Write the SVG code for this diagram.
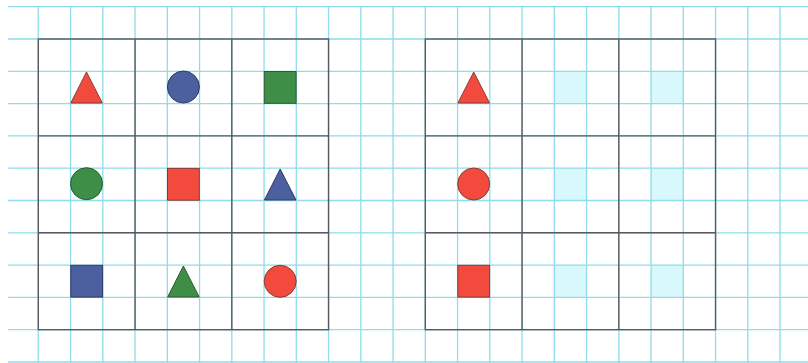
<svg xmlns="http://www.w3.org/2000/svg" width="808" height="363" viewBox="0 0 808 363">
<style>
.grid{stroke:#8fdcea;stroke-width:1.3;fill:none}
.tbl{stroke:#5a5a5e;stroke-width:1.4;fill:none}
.hint{fill:#d9f8fc}
.r{fill:#f24b3d;stroke:#8a3a36;stroke-width:1}
.b{fill:#4c5f9e;stroke:#2f3a66;stroke-width:1}
.g{fill:#3f8e47;stroke:#2a5a30;stroke-width:1}
</style>
<rect width="808" height="363" fill="#ffffff"/>
<g id="hints">
<rect class="hint" x="554.3" y="71.3" width="32.25" height="32.3"/>
<rect class="hint" x="651.05" y="71.3" width="32.25" height="32.3"/>
<rect class="hint" x="554.3" y="168.2" width="32.25" height="32.3"/>
<rect class="hint" x="651.05" y="168.2" width="32.25" height="32.3"/>
<rect class="hint" x="554.3" y="265.1" width="32.25" height="32.3"/>
<rect class="hint" x="651.05" y="265.1" width="32.25" height="32.3"/>
</g>
<g id="grid" class="grid">
<path d="M8 6.7H808M8 39H808M8 71.3H808M8 103.6H808M8 135.9H808M8 168.2H808M8 200.5H808M8 232.8H808M8 265.1H808M8 297.4H808M8 329.7H808M8 362H808"/>
<path d="M38.3 6.7V363M70.55 6.7V363M102.8 6.7V363M135.05 6.7V363M167.3 6.7V363M199.55 6.7V363M231.8 6.7V363M264.05 6.7V363M296.3 6.7V363M328.55 6.7V363M360.8 6.7V363M393.05 6.7V363M425.3 6.7V363M457.55 6.7V363M489.8 6.7V363M522.05 6.7V363M554.3 6.7V363M586.55 6.7V363M618.8 6.7V363M651.05 6.7V363M683.3 6.7V363M715.55 6.7V363M747.8 6.7V363M780.05 6.7V363"/>
</g>
<g id="table-left" class="tbl">
<rect x="38.3" y="39" width="290.25" height="290.7"/>
<path d="M135.05 39V329.7M231.8 39V329.7M38.3 135.9H328.55M38.3 232.8H328.55"/>
</g>
<g id="table-right" class="tbl">
<rect x="425.3" y="39" width="290.25" height="290.7"/>
<path d="M522.05 39V329.7M618.8 39V329.7M425.3 135.9H715.55M425.3 232.8H715.55"/>
</g>
<g id="left-shapes">
<polygon class="r" points="86.5,72 102.3,103 70.8,103"/>
<circle class="b" cx="183.4" cy="87" r="16"/>
<rect class="g" x="264.3" y="71.5" width="31.8" height="31.8"/>
<circle class="g" cx="86.5" cy="183.7" r="16"/>
<rect class="r" x="167.5" y="168.4" width="31.8" height="31.8"/>
<polygon class="b" points="280.2,169 296,200 264.4,200"/>
<rect class="b" x="70.8" y="265.3" width="31.8" height="31.8"/>
<polygon class="g" points="183.4,266 199.2,297 167.6,297"/>
<circle class="r" cx="280.2" cy="281.3" r="16"/>
</g>
<g id="right-shapes">
<polygon class="r" points="473.7,72 489.5,103 457.9,103"/>
<circle class="r" cx="473.7" cy="184" r="16"/>
<rect class="r" x="457.8" y="265.3" width="31.8" height="31.8"/>
</g>
</svg>
